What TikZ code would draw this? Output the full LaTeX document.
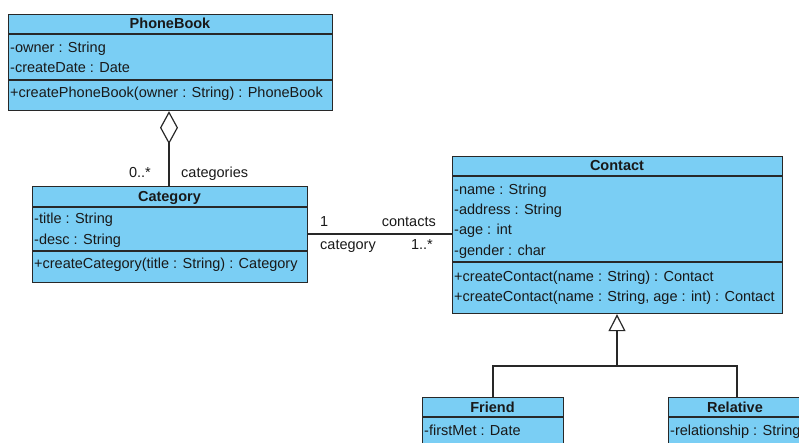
\documentclass[tikz,border=0pt]{standalone}
\usepackage{fontspec}
\setmainfont{Liberation Sans}
\usetikzlibrary{arrows.meta}
\definecolor{clsfill}{RGB}{122,206,244}
\definecolor{lineclr}{RGB}{40,40,40}
\definecolor{txtclr}{RGB}{25,25,25}
\begin{document}
\begin{tikzpicture}[x=1pt,y=-1pt,
 cls/.style={draw=lineclr, line width=1.2pt, fill=clsfill, rectangle, inner sep=0pt, anchor=north west},
 sep/.style={draw=lineclr, line width=1.2pt},
 hdr/.style={font=\fontsize{14.5}{17}\selectfont\bfseries, text=txtclr, inner sep=0pt, anchor=base},
 row/.style={font=\fontsize{14.5}{17}\selectfont, text=txtclr, inner sep=0pt, anchor=base west},
 lblw/.style={row},
 lble/.style={font=\fontsize{14.5}{17}\selectfont, text=txtclr, inner sep=0pt, anchor=base east},
 conn/.style={draw=lineclr, line width=1.2pt}]
\useasboundingbox (0,0) rectangle (799,443);
\begin{scope}
\clip (0,0) rectangle (799,443);
% PhoneBook
\node[cls, minimum width=324pt, minimum height=96pt] (pb) at (8,14) {};
\draw[sep] (pb.west |- 0,34) -- (pb.east |- 0,34);
\draw[sep] (pb.west |- 0,80) -- (pb.east |- 0,80);
\node[hdr] (pbh) at (170,29) {PhoneBook};
\node[row] (pb1) at (10,53) {-owner : String};
\node[row] (pb2) at (10,73) {-createDate : Date};
\node[row] (pb3) at (10,98) {+createPhoneBook(owner : String) : PhoneBook};
% Category
\node[cls, minimum width=275pt, minimum height=96pt] (cat) at (32,186) {};
\draw[sep] (cat.west |- 0,207) -- (cat.east |- 0,207);
\draw[sep] (cat.west |- 0,251) -- (cat.east |- 0,251);
\node[hdr] (cath) at (169.5,202) {Category};
\node[row] (cat1) at (34,224) {-title : String};
\node[row] (cat2) at (34,244) {-desc : String};
\node[row] (cat3) at (34,269) {+createCategory(title : String) : Category};
% Contact
\node[cls, minimum width=330pt, minimum height=157pt] (con) at (452,156) {};
\draw[sep] (con.west |- 0,176) -- (con.east |- 0,176);
\draw[sep] (con.west |- 0,262) -- (con.east |- 0,262);
\node[hdr] (conh) at (617,171) {Contact};
\node[row] (con1) at (454,195) {-name : String};
\node[row] (con2) at (454,215) {-address : String};
\node[row] (con3) at (454,235) {-age : int};
\node[row] (con4) at (454,255) {-gender : char};
\node[row] (con5) at (454,281) {+createContact(name : String) : Contact};
\node[row] (con6) at (454,301) {+createContact(name : String, age : int) : Contact};
% Friend
\node[cls, minimum width=141pt, minimum height=60pt] (fr) at (422,397) {};
\draw[sep] (fr.west |- 0,417) -- (fr.east |- 0,417);
\node[hdr] (frh) at (492.5,412) {Friend};
\node[row] (fr1) at (424,435) {-firstMet : Date};
% Relative
\node[cls, minimum width=160pt, minimum height=60pt] (rel) at (668,397) {};
\draw[sep] (rel.west |- 0,417) -- (rel.east |- 0,417);
\node[hdr] (relh) at (735,412) {Relative};
\node[row] (rel1) at (670,435) {-relationship : String};
% aggregation
\coordinate (agx) at (169,0);
\draw[conn, -{Diamond[open, length=33pt, width=18pt]}] (cat.north -| agx) -- (pb.south -| agx);
\node[lble] (m1) at (151,178) {0..*};
\node[lblw] (r1) at (181,178) {categories};
% association
\coordinate (asy) at (0,234);
\draw[conn] (cat.east |- asy) -- (con.west |- asy);
\node[lblw] (m2) at (320,227) {1};
\node[lble] (r2) at (436,227) {contacts};
\node[lblw] (r3) at (320,250) {category};
\node[lble] (m3) at (433,250) {1..*};
% generalization
\coordinate (gj) at (617,366);
\coordinate (gl) at (493,0);
\coordinate (gr) at (737,0);
\draw[conn, -{Triangle[open, length=17pt, width=17pt]}] (gj) -- (con.south -| gj);
\draw[conn] (fr.north -| gl) |- (gj) -| (rel.north -| gr);
\end{scope}
\end{tikzpicture}
\end{document}
